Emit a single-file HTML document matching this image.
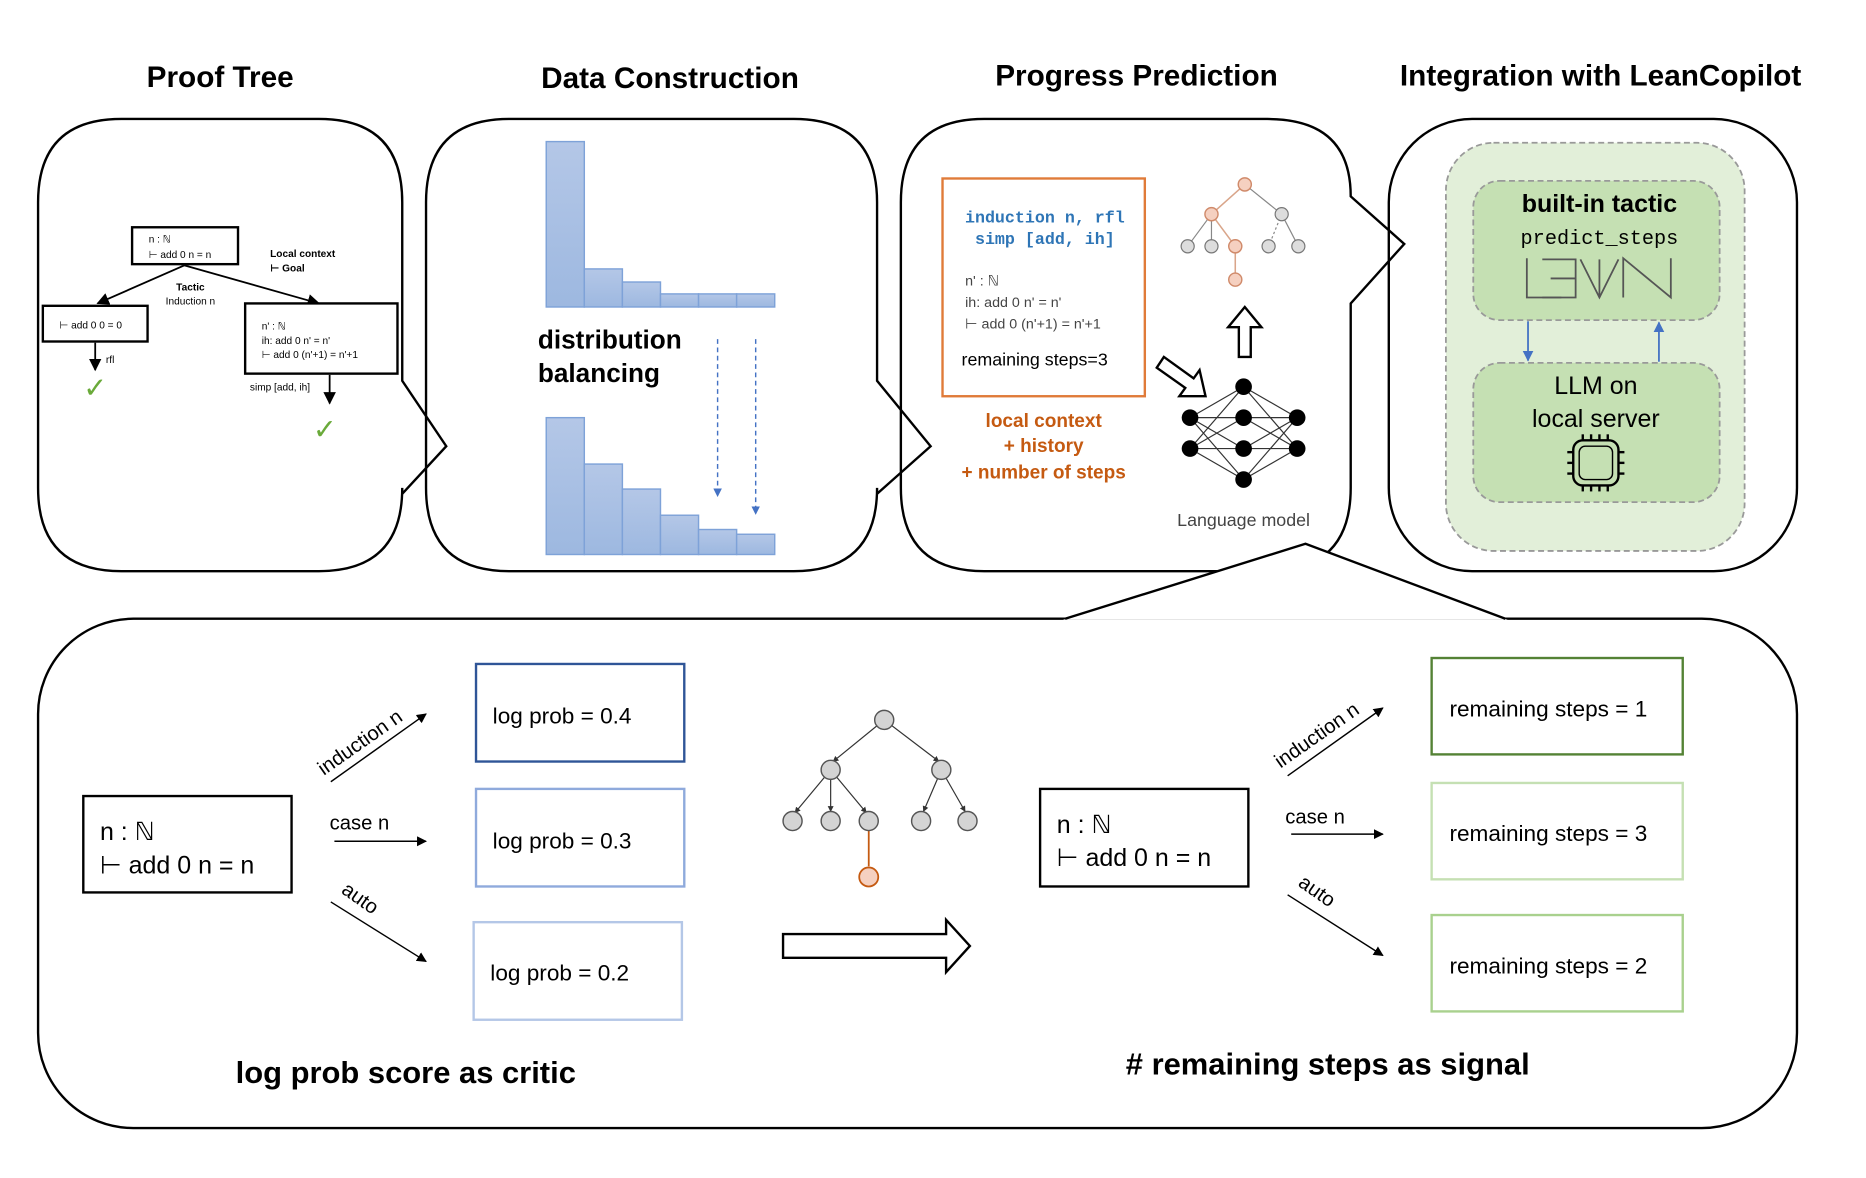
<!DOCTYPE html>
<html><head><meta charset="utf-8"><style>
html,body{margin:0;padding:0;background:#fff;}
svg{display:block;}
text{font-family:"Liberation Sans","DejaVu Sans",sans-serif;}
.mono{font-family:"Liberation Mono","DejaVu Sans Mono",monospace;}
</style></head><body>
<svg width="1866" height="1178" viewBox="0 0 1568 990" preserveAspectRatio="none" xmlns="http://www.w3.org/2000/svg">
<defs>
<marker id="ah" viewBox="0 0 10 10" refX="9" refY="5" markerWidth="7" markerHeight="7" orient="auto"><path d="M0,0 L10,5 L0,10 z" fill="#000"/></marker>
<marker id="ahb" viewBox="0 0 10 10" refX="9" refY="5" markerWidth="6" markerHeight="6" orient="auto"><path d="M0,0 L10,5 L0,10 z" fill="#4472c4"/></marker>
<marker id="ahs" viewBox="0 0 10 10" refX="9" refY="5" markerWidth="5" markerHeight="5" orient="auto"><path d="M0,0 L10,5 L0,10 z" fill="#333"/></marker>
<linearGradient id="bar" x1="0" y1="0" x2="0" y2="1"><stop offset="0" stop-color="#b4c7e7"/><stop offset="1" stop-color="#9db8e0"/></linearGradient>
</defs>
<g font-weight="bold" font-size="25" text-anchor="middle" fill="#000">
<text x="185" y="73">Proof Tree</text>
<text x="563" y="74">Data Construction</text>
<text x="955" y="72">Progress Prediction</text>
<text x="1345" y="72">Integration with LeanCopilot</text>
</g>
<!-- panel 1 -->
<path d="M102,100 H268 Q338,100 338,170 V320 L375,375 L338,415 V410 Q338,480 268,480 H102 Q32,480 32,410 V170 Q32,100 102,100 Z" fill="none" stroke="#000" stroke-width="2"/>
<!-- panel 2 -->
<path d="M428,100 H667 Q737,100 737,170 V320 L782,375 L737,415 V410 Q737,480 667,480 H428 Q358,480 358,410 V170 Q358,100 428,100 Z" fill="none" stroke="#000" stroke-width="2"/>
<!-- panel 3 -->
<path d="M827,100 H1065 Q1135,100 1135,165 L1180,205 L1135,255 V410 Q1135,480 1065,480 H827 Q757,480 757,410 V170 Q757,100 827,100 Z" fill="none" stroke="#000" stroke-width="2"/>
<!-- panel 4 -->
<rect x="1167" y="100" width="343" height="380" rx="70" fill="none" stroke="#000" stroke-width="2"/>
<!-- bottom panel -->
<rect x="32" y="520" width="1478" height="428" rx="80" fill="none" stroke="#000" stroke-width="2"/>
<polygon points="893,521 1097,457 1267,521" fill="#fff"/>
<polyline points="895,520 1097,457 1265,520" fill="none" stroke="#000" stroke-width="2"/>

<!-- panel 1 content -->
<rect x="111" y="191" width="89" height="31" fill="#fff" stroke="#000" stroke-width="2"/>
<text x="125" y="204" font-size="8.5">n : ℕ</text>
<text x="125" y="217" font-size="8.5">⊢ add 0 n = n</text>
<text x="227" y="216" font-size="8.5" font-weight="bold">Local context</text>
<text x="227" y="228" font-size="8.5" font-weight="bold">⊢ Goal</text>
<line x1="155" y1="223" x2="82" y2="255" stroke="#000" stroke-width="1.5" marker-end="url(#ah)"/>
<line x1="155" y1="223" x2="268" y2="255" stroke="#000" stroke-width="1.5" marker-end="url(#ah)"/>
<text x="160" y="244" font-size="8.5" font-weight="bold" text-anchor="middle">Tactic</text>
<text x="160" y="256" font-size="8.5" text-anchor="middle">Induction n</text>
<rect x="36" y="257" width="88" height="30" fill="#fff" stroke="#000" stroke-width="2"/>
<text x="50" y="276" font-size="8.5">⊢ add 0 0 = 0</text>
<rect x="206" y="255" width="128" height="59" fill="#fff" stroke="#000" stroke-width="2"/>
<text x="220" y="277" font-size="8.5">n' : ℕ</text>
<text x="220" y="289" font-size="8.5">ih: add 0 n' = n'</text>
<text x="220" y="301" font-size="8.5">⊢ add 0 (n'+1) = n'+1</text>
<line x1="80" y1="288" x2="80" y2="311" stroke="#000" stroke-width="1.5" marker-end="url(#ah)"/>
<text x="89" y="305" font-size="8.5">rfl</text>
<text x="80" y="334" font-size="24" fill="#6aaa3a" text-anchor="middle">✓</text>
<line x1="277" y1="315" x2="277" y2="339" stroke="#000" stroke-width="1.5" marker-end="url(#ah)"/>
<text x="210" y="328" font-size="8.5">simp [add, ih]</text>
<text x="273" y="369" font-size="24" fill="#6aaa3a" text-anchor="middle">✓</text>

<!-- panel 2 content -->
<g fill="url(#bar)" stroke="#7ea2d8" stroke-width="1.2">
<rect x="459" y="119" width="32" height="139"/><rect x="491" y="226" width="32" height="32"/>
<rect x="523" y="237" width="32" height="21"/><rect x="555" y="247" width="32" height="11"/>
<rect x="587" y="247" width="32" height="11"/><rect x="619" y="247" width="32" height="11"/>
<rect x="459" y="351" width="32" height="115"/><rect x="491" y="390" width="32" height="76"/>
<rect x="523" y="411" width="32" height="55"/><rect x="555" y="433" width="32" height="33"/>
<rect x="587" y="445" width="32" height="21"/><rect x="619" y="449" width="32" height="17"/>
</g>
<text x="452" y="293" font-size="22" font-weight="bold">distribution</text>
<text x="452" y="321" font-size="22" font-weight="bold">balancing</text>
<line x1="603" y1="285" x2="603" y2="417" stroke="#4472c4" stroke-width="1.2" stroke-dasharray="4,3" marker-end="url(#ahb)"/>
<line x1="635" y1="285" x2="635" y2="432" stroke="#4472c4" stroke-width="1.2" stroke-dasharray="4,3" marker-end="url(#ahb)"/>

<!-- panel 3 content -->
<rect x="792" y="150" width="170" height="183" fill="#fff" stroke="#e07b39" stroke-width="2"/>
<text x="878" y="187" class="mono" font-size="14" font-weight="bold" fill="#2e75b6" text-anchor="middle">induction n, rfl</text>
<text x="878" y="205" class="mono" font-size="14" font-weight="bold" fill="#2e75b6" text-anchor="middle">simp [add, ih]</text>
<text x="811" y="240" font-size="12" fill="#444">n' : ℕ</text>
<text x="811" y="258" font-size="12" fill="#444">ih: add 0 n' = n'</text>
<text x="811" y="276" font-size="12" fill="#444">⊢ add 0 (n'+1) = n'+1</text>
<text x="808" y="307" font-size="15">remaining steps=3</text>
<g font-size="16" fill="#c55a11" text-anchor="middle" font-weight="bold">
<text x="877" y="359">local context</text><text x="877" y="380">+ history</text><text x="877" y="402">+ number of steps</text>
</g>
<g stroke="#d9a58a" stroke-width="1.3">
<line x1="1046" y1="155" x2="1018" y2="180"/><line x1="1018" y1="180" x2="1038" y2="207"/><line x1="1038" y1="207" x2="1038" y2="235"/>
</g>
<g stroke="#888" stroke-width="1">
<line x1="1046" y1="155" x2="1077" y2="180"/><line x1="1018" y1="180" x2="998" y2="207"/><line x1="1018" y1="180" x2="1018" y2="207"/>
<line x1="1077" y1="180" x2="1066" y2="207" stroke-dasharray="2,2"/><line x1="1077" y1="180" x2="1091" y2="207"/>
</g>
<g fill="#f5d0c0" stroke="#d08a6a" stroke-width="1.2">
<circle cx="1046" cy="155" r="5.5"/><circle cx="1018" cy="180" r="5.5"/><circle cx="1038" cy="207" r="5.5"/><circle cx="1038" cy="235" r="5.5"/>
</g>
<g fill="#ddd" stroke="#777" stroke-width="1">
<circle cx="1077" cy="180" r="5.5"/><circle cx="998" cy="207" r="5.5"/><circle cx="1018" cy="207" r="5.5"/><circle cx="1066" cy="207" r="5.5"/><circle cx="1091" cy="207" r="5.5"/>
</g>
<polygon points="1041,300 1051,300 1051,275 1060,275 1046,258 1032,275 1041,275" fill="#fff" stroke="#000" stroke-width="2"/>
<polygon points="978,300 972,309 996,326 991,333 1013,333 1008,311 1003,318" fill="#fff" stroke="#000" stroke-width="2"/>
<g stroke="#333" stroke-width="1">
<line x1="1000" y1="351" x2="1045" y2="325"/><line x1="1000" y1="351" x2="1045" y2="351"/><line x1="1000" y1="351" x2="1045" y2="377"/><line x1="1000" y1="351" x2="1045" y2="403"/>
<line x1="1000" y1="377" x2="1045" y2="325"/><line x1="1000" y1="377" x2="1045" y2="351"/><line x1="1000" y1="377" x2="1045" y2="377"/><line x1="1000" y1="377" x2="1045" y2="403"/>
<line x1="1090" y1="351" x2="1045" y2="325"/><line x1="1090" y1="351" x2="1045" y2="351"/><line x1="1090" y1="351" x2="1045" y2="377"/><line x1="1090" y1="351" x2="1045" y2="403"/>
<line x1="1090" y1="377" x2="1045" y2="325"/><line x1="1090" y1="377" x2="1045" y2="351"/><line x1="1090" y1="377" x2="1045" y2="377"/><line x1="1090" y1="377" x2="1045" y2="403"/>
</g>
<g fill="#000">
<circle cx="1000" cy="351" r="7"/><circle cx="1000" cy="377" r="7"/><circle cx="1045" cy="325" r="7"/><circle cx="1045" cy="351" r="7"/>
<circle cx="1045" cy="377" r="7"/><circle cx="1045" cy="403" r="7"/><circle cx="1090" cy="351" r="7"/><circle cx="1090" cy="377" r="7"/>
</g>
<text x="1045" y="442" font-size="15" fill="#444" text-anchor="middle">Language model</text>

<!-- panel 4 content -->
<rect x="1215" y="120" width="251" height="343" rx="40" fill="#e2efd9" stroke="#999" stroke-width="1.5" stroke-dasharray="5,3"/>
<rect x="1238" y="152" width="207" height="117" rx="22" fill="#c5e0b3" stroke="#999" stroke-width="1.5" stroke-dasharray="5,3"/>
<rect x="1238" y="305" width="207" height="117" rx="22" fill="#c5e0b3" stroke="#999" stroke-width="1.5" stroke-dasharray="5,3"/>
<text x="1344" y="178" font-size="21" font-weight="bold" text-anchor="middle">built-in tactic</text>
<text x="1344" y="205" class="mono" font-size="17" text-anchor="middle">predict_steps</text>
<g fill="none" stroke="#555" stroke-width="1.5">
<polyline points="1283,217 1283,250 1312,250"/>
<polyline points="1296,218 1324,218 1324,250 1296,250"/><line x1="1303" y1="234" x2="1324" y2="234"/>
<polyline points="1328,218 1344,250 1360,218"/><line x1="1344" y1="218" x2="1344" y2="250"/>
<polyline points="1364,250 1364,217 1404,250 1404,217"/>
</g>
<text x="1341" y="331" font-size="21" text-anchor="middle">LLM on</text>
<text x="1341" y="359" font-size="21" text-anchor="middle">local server</text>
<rect x="1322" y="370" width="38" height="38" rx="8" fill="none" stroke="#000" stroke-width="2"/>
<rect x="1327" y="375" width="28" height="28" rx="5" fill="none" stroke="#000" stroke-width="1.2"/>
<g stroke="#000" stroke-width="2">
<line x1="1330" y1="365" x2="1330" y2="370"/><line x1="1337" y1="365" x2="1337" y2="370"/><line x1="1344" y1="365" x2="1344" y2="370"/><line x1="1351" y1="365" x2="1351" y2="370"/>
<line x1="1330" y1="408" x2="1330" y2="413"/><line x1="1337" y1="408" x2="1337" y2="413"/><line x1="1344" y1="408" x2="1344" y2="413"/><line x1="1351" y1="408" x2="1351" y2="413"/>
<line x1="1317" y1="380" x2="1322" y2="380"/><line x1="1317" y1="389" x2="1322" y2="389"/><line x1="1317" y1="398" x2="1322" y2="398"/>
<line x1="1360" y1="380" x2="1365" y2="380"/><line x1="1360" y1="389" x2="1365" y2="389"/><line x1="1360" y1="398" x2="1365" y2="398"/>
</g>
<line x1="1284" y1="270" x2="1284" y2="303" stroke="#4472c4" stroke-width="1.5" marker-end="url(#ahb)"/>
<line x1="1394" y1="304" x2="1394" y2="271" stroke="#4472c4" stroke-width="1.5" marker-end="url(#ahb)"/>

<!-- bottom left -->
<rect x="70" y="669" width="175" height="81" fill="#fff" stroke="#000" stroke-width="2"/>
<text x="84" y="706" font-size="21">n : ℕ</text>
<text x="84" y="734" font-size="21">⊢ add 0 n = n</text>
<line x1="278" y1="657" x2="358" y2="600" stroke="#000" stroke-width="1.2" marker-end="url(#ah)"/>
<text x="0" y="0" font-size="17" transform="translate(272,652) rotate(-35)">induction n</text>
<line x1="281" y1="707" x2="358" y2="707" stroke="#000" stroke-width="1.2" marker-end="url(#ah)"/>
<text x="277" y="697" font-size="17">case n</text>
<line x1="278" y1="758" x2="358" y2="808" stroke="#000" stroke-width="1.2" marker-end="url(#ah)"/>
<text x="0" y="0" font-size="17" transform="translate(286,750) rotate(35)">auto</text>
<rect x="400" y="558" width="175" height="82" fill="#fff" stroke="#2f5597" stroke-width="2"/>
<rect x="400" y="663" width="175" height="82" fill="#fff" stroke="#8faadc" stroke-width="2"/>
<rect x="398" y="775" width="175" height="82" fill="#fff" stroke="#b4c7e7" stroke-width="2"/>
<g font-size="19"><text x="414" y="608">log prob = 0.4</text><text x="414" y="713">log prob = 0.3</text><text x="412" y="824">log prob = 0.2</text></g>

<!-- middle tree -->
<g stroke="#333" stroke-width="1">
<line x1="743" y1="605" x2="700" y2="640" marker-end="url(#ahs)"/><line x1="743" y1="605" x2="789" y2="640" marker-end="url(#ahs)"/>
<line x1="698" y1="647" x2="668" y2="683" marker-end="url(#ahs)"/><line x1="698" y1="647" x2="698" y2="682" marker-end="url(#ahs)"/><line x1="698" y1="647" x2="728" y2="683" marker-end="url(#ahs)"/>
<line x1="791" y1="647" x2="776" y2="682" marker-end="url(#ahs)"/><line x1="791" y1="647" x2="811" y2="682" marker-end="url(#ahs)"/>
</g>
<line x1="730" y1="698" x2="730" y2="728" stroke="#c55a11" stroke-width="1.5"/>
<g fill="#d4d4d4" stroke="#555" stroke-width="1.2">
<circle cx="743" cy="605" r="8"/><circle cx="698" cy="647" r="8"/><circle cx="791" cy="647" r="8"/>
<circle cx="666" cy="690" r="8"/><circle cx="698" cy="690" r="8"/><circle cx="730" cy="690" r="8"/><circle cx="774" cy="690" r="8"/><circle cx="813" cy="690" r="8"/>
</g>
<circle cx="730" cy="737" r="8" fill="#f5d0c0" stroke="#c55a11" stroke-width="1.5"/>
<polygon points="658,785 795,785 795,773 815,795 795,817 795,805 658,805" fill="#fff" stroke="#000" stroke-width="2"/>

<!-- bottom right -->
<rect x="874" y="663" width="175" height="82" fill="#fff" stroke="#000" stroke-width="2"/>
<text x="888" y="700" font-size="21">n : ℕ</text>
<text x="888" y="728" font-size="21">⊢ add 0 n = n</text>
<line x1="1082" y1="652" x2="1162" y2="595" stroke="#000" stroke-width="1.2" marker-end="url(#ah)"/>
<text x="0" y="0" font-size="17" transform="translate(1076,646) rotate(-35)">induction n</text>
<line x1="1085" y1="701" x2="1162" y2="701" stroke="#000" stroke-width="1.2" marker-end="url(#ah)"/>
<text x="1080" y="692" font-size="17">case n</text>
<line x1="1082" y1="752" x2="1162" y2="803" stroke="#000" stroke-width="1.2" marker-end="url(#ah)"/>
<text x="0" y="0" font-size="17" transform="translate(1090,744) rotate(35)">auto</text>
<rect x="1203" y="553" width="211" height="81" fill="#fff" stroke="#548235" stroke-width="2"/>
<rect x="1203" y="658" width="211" height="81" fill="#fff" stroke="#c5e0b3" stroke-width="2"/>
<rect x="1203" y="769" width="211" height="81" fill="#fff" stroke="#a9d18e" stroke-width="2"/>
<g font-size="19"><text x="1218" y="602">remaining steps = 1</text><text x="1218" y="707">remaining steps = 3</text><text x="1218" y="818">remaining steps = 2</text></g>

<text x="198" y="910" font-size="26" font-weight="bold">log prob score as critic</text>
<text x="946" y="903" font-size="26" font-weight="bold"># remaining steps as signal</text>
</svg>
</body></html>
